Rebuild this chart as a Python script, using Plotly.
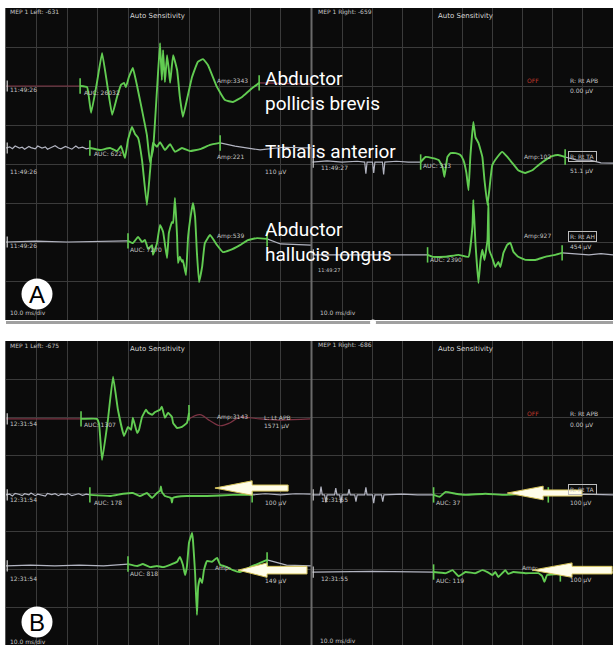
import plotly.graph_objects as go

# ---------------- colours ----------------
GREEN = "#62cc52"
GRAY = "#b3b5c2"
MAROON = "#7e3444"
TXT = "#c4c4c4"

# ---------------- data (time in ms, amplitude in divisions) ----------------
# Panel A, left side
A_L_APB_pre_t = [0, 24.3]
A_L_APB_pre_a = [0, 0]
A_L_APB_t = [24.3, 26.6, 27.9, 29.8, 31.5, 33.1, 34.8, 36.4, 37.7, 38.7, 39.3, 40.3, 41.6, 42.9, 44.6,
             46.2, 47.2, 48.2, 49.5, 50.5, 51.1, 51.5, 52.1, 52.8, 53.4, 53.8, 54.8, 56.1, 57.0, 58.0,
             59.3, 61.0, 62.9, 64.6, 66.2, 69.2, 71.8, 74.4, 77.4, 80.0, 83.0]
A_L_APB_a = [0, -0.03, -0.69, 0.08, 0.85, 0.08, -0.74, -0.28, 0.03, 0.08, -0.03, 0.23, 0.46, 0.03, -0.62,
             -1.26, -1.95, -1.64, -0.10, 1.10, 0.15, 0.92, 0.10, 0.79, 0.41, 0.08, 0.79, 0.41, -0.28, -0.79,
             -0.36, 0.23, 0.62, 0.69, 0.54, -0.03, -0.36, -0.41, -0.28, -0.10, 0.08]
A_L_APB_post_t = [83.0, 100]
A_L_APB_post_a = [0.08, 0.05]

A_L_TA_pre_t = [0, 1.2, 2.1, 3.0, 4.4, 5.3, 6.1, 7.5, 8.2, 9.6, 10.4, 11.8, 12.9, 13.6, 15.0, 16.1, 17.2,
                18.0, 19.5, 20.3, 21.6, 22.9, 23.8, 25.1, 26.3, 27.5]
A_L_TA_pre_a = [0, 0.03, -0.02, 0.05, 0, 0.02, -0.03, 0.04, 0.01, -0.02, 0.05, 0, 0.03, -0.03, 0.02, 0.06, 0,
                -0.02, 0.04, 0.01, -0.03, 0.05, 0, 0.02, -0.02, 0]
A_L_TA_t = [27.5, 30.8, 34.1, 36.4, 37.7, 39.0, 40.0, 41.3, 42.3, 43.3, 44.6, 46.2, 47.2, 48.2, 49.5,
            50.5, 52.1, 53.8, 55.4, 57.7, 60.3, 63.6, 66.9, 70.2]
A_L_TA_a = [0, -0.05, 0, -0.08, 0.05, -0.26, 0.21, 0.54, 0.36, 0.26, -0.31, -1.46, -0.62, 0.13, 0.03,
            0.15, -0.05, 0.10, -0.10, 0, -0.08, -0.03, 0.08, 0.13]
A_L_TA_post_t = [70.2, 75.1, 83.3, 91, 100]
A_L_TA_post_a = [0.13, 0.05, -0.05, 0.02, 0]

A_L_AHL_pre_t = [0, 10, 20, 30, 40.0]
A_L_AHL_pre_a = [0, 0.02, 0, 0.02, 0.03]
A_L_AHL_t = [40.0, 41.6, 43.3, 44.6, 45.6, 46.6, 47.9, 48.2, 49.5, 50.5, 51.5, 52.8, 53.4, 54.4, 54.8,
             55.4, 56.1, 56.4, 57.0, 57.7, 58.0, 59.0, 59.7, 60.7, 61.3, 62.0, 62.6, 63.3, 64.3, 65.2,
             66.9, 69.2, 71.1, 73.4, 76.7, 79.3, 82.3, 85.6]
A_L_AHL_a = [0.03, -0.03, 0.13, 0, 0.05, -0.18, -0.08, -0.33, -0.03, 0.44, 0.26, -0.41, 0.23, 0.51, 0.49,
             1.13, 0.13, -0.54, -0.38, -0.51, -0.46, -0.85, 0.13, 0.74, 1.00, 0.64, -0.28, -1.03, -0.64, -0.03,
             0.18, -0.08, -0.26, -0.21, -0.08, 0.05, 0.10, 0.08]
A_L_AHL_post_t = [85.6, 90, 100]
A_L_AHL_post_a = [0.08, -0.05, -0.08]

# Panel A, right side
A_R_TA_pre_t = [0, 5, 10, 15, 17.5, 17.9, 18.3, 20.1, 20.5, 20.9, 23.4, 23.8, 24.2, 28, 32, 36.1]
A_R_TA_pre_a = [0, 0.03, 0, 0.02, 0, -0.3, 0, 0, -0.28, 0, 0, -0.32, 0, 0.02, 0, 0]
A_R_TA_t = [36.1, 37.7, 40.1, 42.1, 43.4, 44.0, 45.0, 46.0, 47.7, 49.3, 50.3, 51.3, 52.0, 52.6, 53.6,
            54.3, 55.3, 56.6, 57.3, 58.3, 58.9, 59.9, 61.6, 63.2, 64.9, 66.6, 68.5, 70.9, 73.2, 75.2,
            77.5, 79.8, 81.8, 84.1]
A_R_TA_a = [0, 0.13, 0.10, 0.05, -0.13, -0.38, 0.13, 0.23, 0.23, 0.18, 0.05, -0.28, -0.72, 0.13, 1.03,
            0.64, 0.49, 0.13, -0.46, -1.10, -0.72, -0.08, 0.13, 0.26, 0.13, -0.03, -0.21, -0.28, -0.21, -0.08,
            0.05, 0.15, 0.18, 0.13]
A_R_TA_post_t = [84.1, 88, 92.4, 96, 100]
A_R_TA_post_a = [0.13, 0.05, 0.05, -0.02, -0.03]

A_R_AHL_pre_t = [0, 38.4]
A_R_AHL_pre_a = [0, 0]
A_R_AHL_t = [38.4, 40.1, 44.4, 48.7, 52.0, 53.3, 53.6, 54.3, 55.3, 56.0, 56.6, 57.3, 58.3, 58.6, 58.9,
             59.9, 60.9, 61.9, 62.6, 63.6, 64.9, 65.9, 66.9, 68.5, 70.9, 74.2, 77.5, 80.8, 83.1]
A_R_AHL_a = [0, -0.05, -0.05, 0, -0.05, 0.72, 1.41, 0.31, -0.72, -0.13, 0.13, -0.13, 0.38, 1.33, 0.13,
             -0.08, -0.31, -0.18, -0.31, 0.05, 0.26, 0.31, 0.08, -0.05, -0.13, -0.13, -0.05, 0, 0.05]
A_R_AHL_post_t = [83.1, 88, 92, 96, 100]
A_R_AHL_post_a = [0.05, 0.03, 0, 0.03, 0]

# Panel B, left side
B_L_APB_pre_t = [0, 24.6]
B_L_APB_pre_a = [0, 0]
B_L_APB_t = [24.6, 29.8, 30.5, 31.5, 33.4, 35.1, 36.7, 38.7, 40.0, 41.0, 41.6, 43.0, 43.6, 44.6, 45.9,
             46.6, 47.9, 48.9, 50.5, 51.1, 52.1, 53.1, 54.4, 54.8, 56.1, 57.7, 59.3, 60.0]
B_L_APB_a = [0, 0, -0.13, -1.08, -0.03, 1.11, 0.24, -0.45, -0.21, -0.29, 0.03, -0.37, -0.29, 0.05, 0.24,
             0.16, 0.11, 0.18, 0.24, 0.32, 0.03, 0.16, 0.05, -0.11, -0.24, -0.21, -0.11, 0.16]
B_L_APB_post_t = [60.0, 63.6, 66.9, 70.2, 73.5, 76.7, 80, 83.3, 89.8, 99.7]
B_L_APB_post_a = [0, 0.11, -0.05, -0.18, -0.1, 0.05, 0.03, 0, -0.03, 0]

B_L_TA_pre_t = [0, 1.2, 2.1, 3.0, 4.4, 5.3, 6.1, 7.5, 8.2, 9.6, 10.4, 11.8, 12.9, 13.6, 15.0, 16.1, 17.2,
                18.0, 19.5, 20.3, 21.6, 22.9, 23.8, 25.1, 26.3, 27.5]
B_L_TA_pre_a = [0, 0.02, -0.03, 0.04, 0.01, -0.02, 0.03, 0, 0.05, -0.02, 0.02, 0, -0.03, 0.04, 0.01, 0.03,
                -0.02, 0.02, 0, 0.04, -0.02, 0.01, 0.03, -0.01, 0.02, 0]
B_L_TA_t = [27.5, 34.1, 38.4, 41.6, 43.9, 46.2, 47.9, 49.5, 50.5, 50.8, 51.1, 52.1, 54.1, 54.4, 54.7,
            56.1, 59.3, 65.9, 74.4, 80.7]
B_L_TA_a = [0, -0.03, 0.03, 0.05, -0.03, 0.05, -0.08, 0.05, 0.11, 0.22, 0.08, -0.03, -0.08, -0.2, -0.08,
            -0.05, -0.03, -0.03, 0, 0]
B_L_TA_post_t = [80.7, 85, 90, 95, 100]
B_L_TA_post_a = [0, 0.03, 0, 0.03, 0.02]

B_L_AHL_pre_t = [0, 8, 16, 24, 32, 40.0]
B_L_AHL_pre_a = [0, 0.02, 0, 0.02, 0, 0.05]
B_L_AHL_t = [40.0, 43.0, 44.9, 47.2, 49.5, 51.5, 53.8, 56.1, 57.0, 58.0, 58.7, 59.3, 60.0, 61.0, 61.3,
             62.0, 62.6, 63.0, 63.6, 64.3, 64.9, 65.9, 67.5, 69.2, 70.2, 72.5, 74.4, 76.7, 80.0, 83.3, 85.6]
B_L_AHL_a = [0.05, 0, 0.05, -0.03, 0, -0.03, 0.03, 0.11, 0.24, 0.03, -0.24, -0.03, 0.61, 0.87, 0.68,
             -0.18, -1.29, -0.55, -0.32, -0.45, -0.11, 0.13, 0.11, 0.21, 0.03, -0.03, -0.11, -0.16, -0.03, 0.08, 0.16]
B_L_AHL_post_t = [85.6, 92, 100]
B_L_AHL_post_a = [0.16, 0.02, 0]

# Panel B, right side
B_R_TA_pre_t = [0, 2.6, 3.0, 3.4, 4.2, 4.6, 5.0, 7.5, 7.9, 8.3, 9.2, 9.6, 10.0, 11.9, 12.3, 12.7, 14.2, 14.6, 15.0,
                17.5, 17.9, 18.3, 20.1, 20.5, 20.9, 23.1, 23.5, 23.9, 30, 35, 40.4]
B_R_TA_pre_a = [0, 0, 0.22, 0, 0, -0.2, 0, 0, 0.18, 0, 0, -0.22, 0, 0, 0.15, 0, 0, -0.18, 0,
                0, 0.2, 0, 0, -0.22, 0, 0, -0.18, 0, 0.02, 0, 0]
B_R_TA_t = [40.4, 42.4, 44.4, 47.7, 51.0, 57.6, 64.2, 70.8, 78.5]
B_R_TA_a = [0, -0.05, 0.08, 0.03, 0, 0.03, 0, 0.03, 0]
B_R_TA_post_t = [78.5, 90, 100]
B_R_TA_post_a = [0, 0.02, 0]

B_R_AHL_pre_t = [0, 20, 40.4]
B_R_AHL_pre_a = [0, 0.02, 0]
B_R_AHL_t = [40.4, 44.4, 46.7, 48.7, 51.0, 54.3, 56.6, 58.3, 59.9, 60.9, 61.9, 63.2, 64.2, 65.2, 66.9,
             70.9, 75.2, 76.5, 77.2, 78.1, 82.5]
B_R_AHL_a = [0, -0.03, 0.05, -0.11, 0, -0.03, 0.05, 0, -0.08, 0, -0.13, -0.03, 0.05, -0.05, 0,
             -0.03, -0.03, -0.11, -0.26, -0.08, -0.05]
B_R_AHL_post_t = [82.5, 90, 100]
B_R_AHL_post_a = [-0.05, 0, 0]

# ---------------- figure ----------------
fig = go.Figure()
AX = {"AL": ("x", "y"), "AR": ("x2", "y2"), "BL": ("x3", "y3"), "BR": ("x4", "y4")}

channels = [
    # panel, baseline (div), pre, green, post, pre/post colour
    ("AL", 6.00, (A_L_APB_pre_t, A_L_APB_pre_a), (A_L_APB_t, A_L_APB_a), (A_L_APB_post_t, A_L_APB_post_a), MAROON),
    ("AL", 4.41, (A_L_TA_pre_t, A_L_TA_pre_a), (A_L_TA_t, A_L_TA_a), (A_L_TA_post_t, A_L_TA_post_a), GRAY),
    ("AL", 2.00, (A_L_AHL_pre_t, A_L_AHL_pre_a), (A_L_AHL_t, A_L_AHL_a), (A_L_AHL_post_t, A_L_AHL_post_a), GRAY),
    ("AR", 4.05, (A_R_TA_pre_t, A_R_TA_pre_a), (A_R_TA_t, A_R_TA_a), (A_R_TA_post_t, A_R_TA_post_a), GRAY),
    ("AR", 1.67, (A_R_AHL_pre_t, A_R_AHL_pre_a), (A_R_AHL_t, A_R_AHL_a), (A_R_AHL_post_t, A_R_AHL_post_a), GRAY),
    ("BL", 5.95, (B_L_APB_pre_t, B_L_APB_pre_a), (B_L_APB_t, B_L_APB_a), (B_L_APB_post_t, B_L_APB_post_a), MAROON),
    ("BL", 3.95, (B_L_TA_pre_t, B_L_TA_pre_a), (B_L_TA_t, B_L_TA_a), (B_L_TA_post_t, B_L_TA_post_a), GRAY),
    ("BL", 2.08, (B_L_AHL_pre_t, B_L_AHL_pre_a), (B_L_AHL_t, B_L_AHL_a), (B_L_AHL_post_t, B_L_AHL_post_a), GRAY),
    ("BR", 3.95, (B_R_TA_pre_t, B_R_TA_pre_a), (B_R_TA_t, B_R_TA_a), (B_R_TA_post_t, B_R_TA_post_a), GRAY),
    ("BR", 1.92, (B_R_AHL_pre_t, B_R_AHL_pre_a), (B_R_AHL_t, B_R_AHL_a), (B_R_AHL_post_t, B_R_AHL_post_a), GRAY),
]

for panel, base, pre, grn, post, col in channels:
    xa, ya = AX[panel]
    for (t, a) in (pre, post):
        shape = "spline" if col == MAROON else "linear"
        fig.add_trace(go.Scatter(x=t, y=[base + v for v in a], xaxis=xa, yaxis=ya, mode="lines",
                                 line=dict(color=col, width=1.2, shape=shape), hoverinfo="skip", showlegend=False))
    # channel start marker at the left edge of the sweep
    fig.add_trace(go.Scatter(x=[pre[0][0] + 0.4], y=[base + pre[1][0]], xaxis=xa, yaxis=ya, mode="markers",
                             marker=dict(symbol="line-ns", size=8, line=dict(color="#d0d0d0", width=1.2)),
                             hoverinfo="skip", showlegend=False))
    t, a = grn
    fig.add_trace(go.Scatter(x=t, y=[base + v for v in a], xaxis=xa, yaxis=ya, mode="lines",
                             line=dict(color=GREEN, width=1.9, shape="spline", smoothing=0.3),
                             hoverinfo="skip", showlegend=False))
    fig.add_trace(go.Scatter(x=[t[0], t[-1]], y=[base + a[0], base + a[-1]], xaxis=xa, yaxis=ya, mode="markers",
                             marker=dict(symbol="line-ns", size=11, line=dict(color=GREEN, width=1.6)),
                             hoverinfo="skip", showlegend=False))

# ---------------- axes ----------------
xcommon = dict(range=[0, 100], tick0=0, dtick=10, showgrid=True, gridcolor="#3b3b3b", gridwidth=1,
               zeroline=False, showticklabels=False, ticks="", showline=False, fixedrange=True)
ycommon = dict(range=[0, 8], tick0=0, dtick=1, showgrid=True, gridcolor="#3b3b3b", gridwidth=1,
               zeroline=False, showticklabels=False, ticks="", showline=False, fixedrange=True)
yleft = dict(ycommon, showline=True, linecolor="#555555", linewidth=1)
XL = [6 / 613, 311 / 613]
XR = [312 / 613, 1.0]
YA = [1 - 320 / 653, 1 - 8 / 653]
YB = [1 - 645 / 653, 1 - 341 / 653]

fig.update_layout(
    width=613, height=653, margin=dict(l=0, r=0, t=0, b=0),
    paper_bgcolor="white", plot_bgcolor="#0b0b0b",
    xaxis=dict(xcommon, domain=XL, anchor="y"),
    yaxis=dict(yleft, domain=YA, anchor="x"),
    xaxis2=dict(xcommon, domain=XR, anchor="y2"),
    yaxis2=dict(ycommon, domain=YA, anchor="x2"),
    xaxis3=dict(xcommon, domain=XL, anchor="y3"),
    yaxis3=dict(yleft, domain=YB, anchor="x3"),
    xaxis4=dict(xcommon, domain=XR, anchor="y4"),
    yaxis4=dict(ycommon, domain=YB, anchor="x4"),
)

# ---------------- small screen texts ----------------
screen_texts = [
    # panel, t, v, text, size, colour, anchor, boxed
    ("AL", 0.7, 7.9, "MEP 1 Left: -631", 6, TXT, "left", False),
    ("AL", 49.8, 7.8, "Auto Sensitivity", 7, "#d8d8d8", "center", False),
    ("AL", 0.7, 5.9, "11:49:26", 6, TXT, "left", False),
    ("AL", 24.9, 5.83, "AUC: 26032", 6, TXT, "left", False),
    ("AL", 68.5, 6.13, "Amp:3343", 6, TXT, "left", False),
    ("AL", 0.7, 3.8, "11:49:26", 6, TXT, "left", False),
    ("AL", 28.2, 4.26, "AUC: 622", 6, TXT, "left", False),
    ("AL", 68.5, 4.18, "Amp:221", 6, TXT, "left", False),
    ("AL", 84.3, 3.8, "110 µV", 6, TXT, "left", False),
    ("AL", 0.7, 1.92, "11:49:26", 6, TXT, "left", False),
    ("AL", 40.0, 1.82, "AUC: 7270", 6, TXT, "left", False),
    ("AL", 68.5, 2.15, "Amp:539", 6, TXT, "left", False),
    ("AL", 0.7, 0.18, "10.0 ms/div", 6, TXT, "left", False),
    ("AR", 1.3, 7.9, "MEP 1 Right: -659", 6, TXT, "left", False),
    ("AR", 51.0, 7.8, "Auto Sensitivity", 7, "#d8d8d8", "center", False),
    ("AR", 70.9, 6.15, "OFF", 6, "#c0392b", "left", False),
    ("AR", 85.1, 6.15, "R: Rt APB", 6, TXT, "left", False),
    ("AR", 85.1, 5.87, "0.00 µV", 6, TXT, "left", False),
    ("AR", 2.3, 3.92, "11:49:27", 6, TXT, "left", False),
    ("AR", 36.1, 3.95, "AUC: 313", 6, TXT, "left", False),
    ("AR", 69.9, 4.18, "Amp:102", 6, TXT, "left", False),
    ("AR", 85.1, 4.18, "R: Rt TA", 6, TXT, "left", True),
    ("AR", 85.1, 3.82, "51.1 µV", 6, TXT, "left", False),
    ("AR", 1.3, 1.27, "11:49:27", 5, TXT, "left", False),
    ("AR", 38.7, 1.54, "AUC: 2390", 6, TXT, "left", False),
    ("AR", 69.9, 2.15, "Amp:927", 6, TXT, "left", False),
    ("AR", 85.1, 2.15, "R: Rt AH", 6, TXT, "left", True),
    ("AR", 85.1, 1.87, "454 µV", 6, TXT, "left", False),
    ("AR", 2.0, 0.18, "10.0 ms/div", 6, TXT, "left", False),
    ("BL", 0.7, 7.89, "MEP 1 Left: -675", 6, TXT, "left", False),
    ("BL", 49.8, 7.79, "Auto Sensitivity", 7, "#d8d8d8", "center", False),
    ("BL", 0.7, 5.84, "12:31:54", 6, TXT, "left", False),
    ("BL", 24.9, 5.79, "AUC: 1307", 6, TXT, "left", False),
    ("BL", 68.5, 6.0, "Amp:3143", 6, TXT, "left", False),
    ("BL", 83.9, 6.0, "L: Lt APB", 6, TXT, "left", False),
    ("BL", 83.9, 5.76, "1571 µV", 6, TXT, "left", False),
    ("BL", 0.7, 3.84, "12:31:54", 6, TXT, "left", False),
    ("BL", 28.2, 3.76, "AUC: 178", 6, TXT, "left", False),
    ("BL", 84.3, 3.74, "100 µV", 6, TXT, "left", False),
    ("BL", 0.7, 1.74, "12:31:54", 6, TXT, "left", False),
    ("BL", 40.0, 1.89, "AUC: 818", 6, TXT, "left", False),
    ("BL", 67.9, 2.03, "Amp:", 6, TXT, "left", False),
    ("BL", 84.3, 1.68, "149 µV", 6, TXT, "left", False),
    ("BL", 0.7, 0.09, "10.0 ms/div", 6, TXT, "left", False),
    ("BR", 1.3, 7.89, "MEP 1 Right: -686", 6, TXT, "left", False),
    ("BR", 51.0, 7.79, "Auto Sensitivity", 7, "#d8d8d8", "center", False),
    ("BR", 70.9, 6.1, "OFF", 6, "#c0392b", "left", False),
    ("BR", 85.1, 6.1, "R: Rt APB", 6, TXT, "left", False),
    ("BR", 85.1, 5.79, "0.00 µV", 6, TXT, "left", False),
    ("BR", 2.3, 3.84, "12:31:55", 6, TXT, "left", False),
    ("BR", 40.4, 3.76, "AUC: 37", 6, TXT, "left", False),
    ("BR", 85.1, 4.08, "R: Rt TA", 6, TXT, "left", True),
    ("BR", 85.1, 3.74, "100 µV", 6, TXT, "left", False),
    ("BR", 2.3, 1.74, "12:31:55", 6, TXT, "left", False),
    ("BR", 40.4, 1.71, "AUC: 119", 6, TXT, "left", False),
    ("BR", 69.2, 2.03, "Amp:", 6, TXT, "left", False),
    ("BR", 85.1, 1.71, "100 µV", 6, TXT, "left", False),
    ("BR", 2.0, 0.12, "10.0 ms/div", 6, TXT, "left", False),
]

shapes = []

# divider between left and right recordings
for ydom in (YA, YB):
    shapes.append(dict(type="line", xref="paper", yref="paper", x0=311.5 / 613, x1=311.5 / 613,
                       y0=ydom[0], y1=ydom[1], line=dict(color="#6a6a6a", width=2), layer="above"))
# scroll bar under panel A
shapes.append(dict(type="line", xref="paper", yref="paper", x0=6 / 613, x1=1.0, y0=1 - 322.5 / 653,
                   y1=1 - 322.5 / 653, line=dict(color="#a0a0a0", width=3), layer="above"))
shapes.append(dict(type="circle", xref="paper", yref="paper", xsizemode="pixel", ysizemode="pixel",
                   xanchor=373 / 613, yanchor=1 - 322.5 / 653, x0=-3, x1=3, y0=-3, y1=3,
                   fillcolor="white", line=dict(width=0), layer="above"))

# highlight arrows (panel, tip t, tip v, head base t, head half-height, shaft half-height, tail t)
arrows = [
    ("BL", 68.5, 4.13, 80.7, 0.19, 0.08, 92.5),
    ("BL", 76.1, 1.97, 85.6, 0.19, 0.10, 98.7),
    ("BR", 64.9, 4.00, 76.8, 0.18, 0.08, 89.7),
    ("BR", 73.2, 1.97, 86.4, 0.19, 0.10, 99.7),
]
for panel, tx, ty, hx, hh, sh, ex in arrows:
    xa, ya = AX[panel]
    path = (f"M {tx},{ty} L {hx},{ty + hh} L {hx},{ty + sh} L {ex},{ty + sh} "
            f"L {ex},{ty - sh} L {hx},{ty - sh} L {hx},{ty - hh} Z")
    shapes.append(dict(type="path", xref=xa, yref=ya, path=path, fillcolor="#fffdea",
                       line=dict(color="#d8c65c", width=1), layer="above"))

# panel letters in white discs
DISCS = [(37, 294, "A"), (37, 622, "B")]
for cx, cy, _ in DISCS:
    shapes.append(dict(type="circle", xref="paper", yref="paper", xsizemode="pixel", ysizemode="pixel",
                       xanchor=cx / 613, yanchor=1 - cy / 653, x0=-15.5, x1=15.5, y0=-15.5, y1=15.5,
                       fillcolor="white", line=dict(width=0), layer="above"))

fig.update_layout(shapes=shapes)

for panel, t, v, s, size, col, anc, box in screen_texts:
    xa, ya = AX[panel]
    d = dict(x=t, y=v, xref=xa, yref=ya, text=s, showarrow=False, xanchor=anc, yanchor="middle",
             font=dict(family="DejaVu Sans", size=size, color=col))
    if box:
        d.update(bordercolor="#bdbdbd", borderwidth=1, borderpad=1)
    fig.add_annotation(**d)

# muscle labels (one annotation per printed line)
muscle_labels = [
    (84.3, 6.18, "Abductor"),
    (84.3, 5.55, "pollicis brevis"),
    (84.3, 4.33, "Tibialis anterior"),
    (84.3, 2.33, "Abductor"),
    (84.3, 1.68, "hallucis longus"),
]
for t, v, s in muscle_labels:
    fig.add_annotation(x=t, y=v, xref="x", yref="y", text=s, showarrow=False, xanchor="left",
                       yanchor="middle", align="left",
                       font=dict(family="Roboto", size=19, color="white"))

# panel letters
for cx, cy, s in DISCS:
    fig.add_annotation(x=cx / 613, y=1 - cy / 653, xref="paper", yref="paper", text=s, showarrow=False,
                       xanchor="center", yanchor="middle",
                       font=dict(family="Liberation Sans", size=24, color="black"))

fig.write_html("out.html", config={"displayModeBar": False, "staticPlot": True},
               post_script="document.body.style.margin='0';document.body.style.overflow='hidden';")
